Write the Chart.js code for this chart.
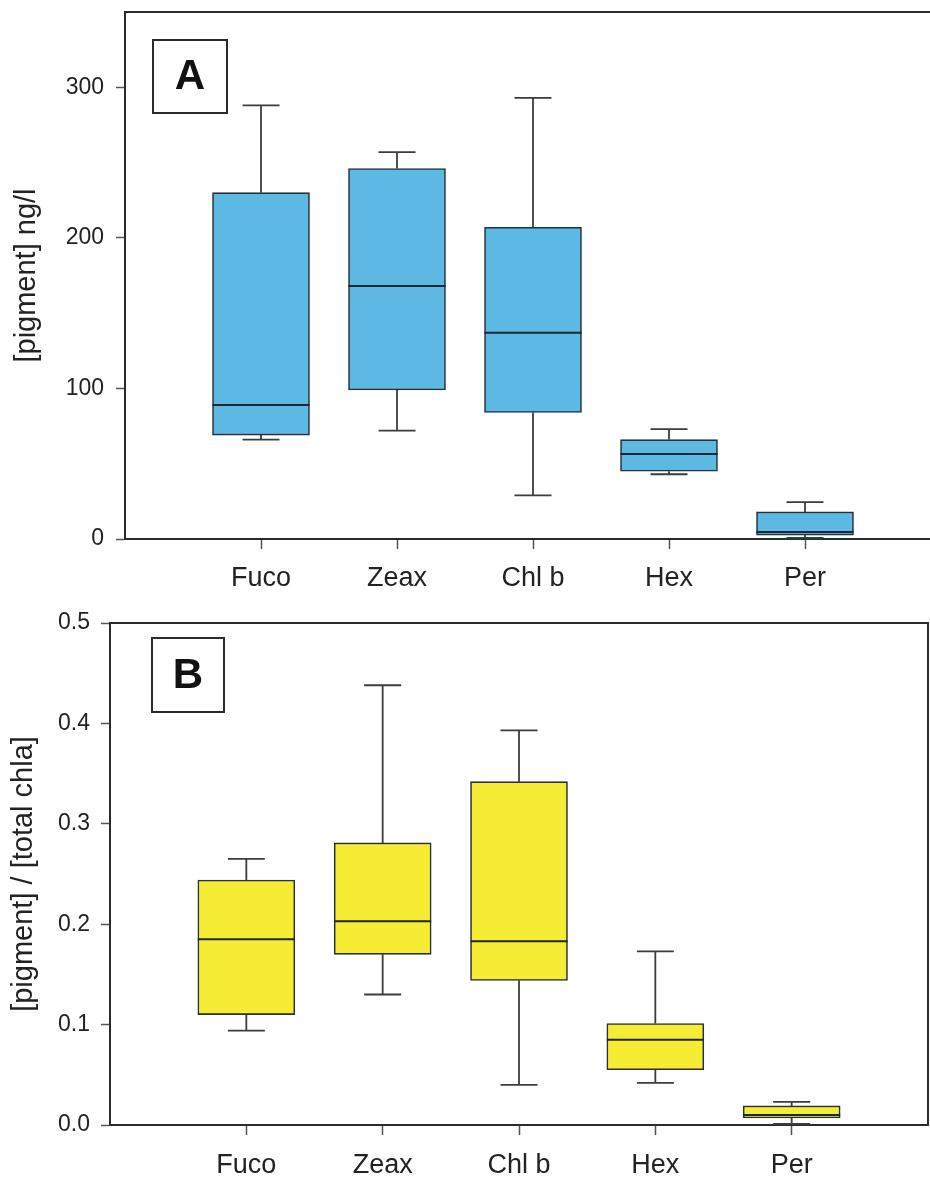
<!DOCTYPE html>
<html>
<head>
<meta charset="utf-8">
<title>Pigment box plots</title>
<script src="https://cdn.jsdelivr.net/npm/chart.js@4.4.1/dist/chart.umd.min.js"></script>
<style>
  html, body { margin: 0; padding: 0; background: #fff; }
  #page { width: 930px; height: 1178px; overflow: hidden; position: relative; background: #fff; }
  .panel { position: absolute; left: 0; width: 930px; overflow: hidden; }
  #panelA { top: 0; height: 600px; }
  #panelB { top: 600px; height: 578px; }
  canvas { display: block; }
</style>
</head>
<body>
<div id="page">
  <div class="panel" id="panelA"><canvas id="chartA" width="945" height="600"></canvas></div>
  <div class="panel" id="panelB"><canvas id="chartB" width="930" height="578"></canvas></div>
</div>
<script>
const categories = ["Fuco", "Zeax", "Chl b", "Hex", "Per"];

// A: pigment concentration, ng/l
const concMin    = [66, 72, 29, 43, 0.7];
const concQ1     = [69, 99, 84, 45, 2.6];
const concMedian = [89, 168, 137, 56.5, 4.6];
const concQ3     = [230, 246, 207, 66, 18];
const concMax    = [288, 257, 293, 73, 24.5];
const concTicks  = [0, 100, 200, 300];

// B: pigment / total chl a
const ratioMin    = [0.094, 0.130, 0.040, 0.042, 0.001];
const ratioQ1     = [0.110, 0.170, 0.144, 0.055, 0.007];
const ratioMedian = [0.185, 0.203, 0.183, 0.085, 0.010];
const ratioQ3     = [0.244, 0.281, 0.342, 0.101, 0.019];
const ratioMax    = [0.265, 0.438, 0.393, 0.173, 0.023];
const ratioTicks  = [0, 0.1, 0.2, 0.3, 0.4, 0.5];

const ink = "#2b2b2b";
const fontFamily = "'Liberation Sans', Arial, Helvetica, sans-serif";

// whiskers under the boxes, median lines on top
const boxPlotPlugin = {
  id: "boxPlot",
  beforeDatasetsDraw(chart, args, opts) {
    const ctx = chart.ctx;
    const xs = chart.scales.x, ys = chart.scales.y;
    const meta = chart.getDatasetMeta(0);
    ctx.save();
    ctx.strokeStyle = "#3c3c3c";
    ctx.lineWidth = 1.8;
    meta.data.forEach((bar, i) => {
      const cx = xs.getPixelForValue(i + 1);
      const half = opts.capWidth / 2;
      const yMin = ys.getPixelForValue(opts.min[i]);
      const yMax = ys.getPixelForValue(opts.max[i]);
      const yQ1 = ys.getPixelForValue(opts.q1[i]);
      const yQ3 = ys.getPixelForValue(opts.q3[i]);
      ctx.beginPath();
      ctx.moveTo(cx, yQ3); ctx.lineTo(cx, yMax);
      ctx.moveTo(cx - half, yMax); ctx.lineTo(cx + half, yMax);
      ctx.moveTo(cx, yQ1); ctx.lineTo(cx, yMin);
      ctx.moveTo(cx - half, yMin); ctx.lineTo(cx + half, yMin);
      ctx.stroke();
    });
    ctx.restore();
  },
  afterDatasetsDraw(chart, args, opts) {
    const ctx = chart.ctx;
    const ys = chart.scales.y;
    const meta = chart.getDatasetMeta(0);
    ctx.save();
    ctx.strokeStyle = "#1e2730";
    ctx.lineWidth = 2;
    meta.data.forEach((bar, i) => {
      const y = ys.getPixelForValue(opts.median[i]);
      ctx.beginPath();
      ctx.moveTo(bar.x - bar.width / 2, y);
      ctx.lineTo(bar.x + bar.width / 2, y);
      ctx.stroke();
    });
    ctx.restore();
  }
};

// top and right edges of the plot frame, plus the boxed panel letter
const framePlugin = {
  id: "frame",
  afterDraw(chart, args, opts) {
    const ctx = chart.ctx;
    const a = chart.chartArea;
    ctx.save();
    ctx.strokeStyle = ink;
    ctx.lineWidth = 2;
    ctx.beginPath();
    ctx.moveTo(a.left, a.top);
    ctx.lineTo(a.right, a.top);
    ctx.lineTo(a.right, a.bottom);
    ctx.stroke();

    const t = opts.tag;
    ctx.lineWidth = 2;
    ctx.strokeRect(t.x, t.y, t.w, t.h);
    ctx.fillStyle = "#111";
    ctx.font = "bold 42px " + fontFamily;
    ctx.textAlign = "center";
    ctx.textBaseline = "middle";
    ctx.fillText(t.text, t.x + t.w / 2, t.y + t.h / 2 + 1);
    ctx.restore();
  }
};

function makeBoxChart(canvasId, s) {
  const positions = categories.map((c, i) => i + 1);
  return new Chart(document.getElementById(canvasId), {
    type: "bar",
    data: {
      datasets: [{
        data: positions.map((x, i) => ({ x: x, y: [s.q1[i], s.q3[i]] })),
        backgroundColor: s.fill,
        borderColor: "#26303a",
        borderWidth: 1.6,
        borderSkipped: false,
        barThickness: 97
      }]
    },
    options: {
      responsive: false,
      animation: false,
      layout: { padding: s.padding },
      plugins: {
        legend: { display: false },
        tooltip: { enabled: false },
        boxPlot: { min: s.min, q1: s.q1, median: s.median, q3: s.q3, max: s.max, capWidth: 37 },
        frame: { tag: s.tag }
      },
      scales: {
        x: {
          type: "linear",
          min: 0,
          max: 6,
          offset: false,
          afterBuildTicks: sc => { sc.ticks = positions.map(v => ({ value: v })); },
          afterFit: sc => {
            sc.height = s.xHeight;
            sc.paddingLeft = 0;
            sc.paddingRight = 0;
          },
          ticks: {
            callback: v => categories[v - 1],
            color: "#222",
            font: { family: fontFamily, size: 27 },
            padding: s.xPad,
            maxRotation: 0,
            autoSkip: false
          },
          grid: { drawOnChartArea: false, offset: false, tickLength: 10, tickColor: "#555", tickWidth: 1.5 },
          border: { color: ink, width: 2 }
        },
        y: {
          min: 0,
          max: s.yMax,
          afterBuildTicks: sc => { sc.ticks = s.ticks.map(v => ({ value: v })); },
          afterFit: sc => {
            sc.width = s.yWidth;
            sc.paddingTop = 0;
            sc.paddingBottom = 0;
          },
          ticks: {
            callback: s.format,
            color: "#222",
            font: { family: fontFamily, size: 23 },
            padding: s.yPad
          },
          title: {
            display: true,
            text: s.title,
            color: "#222",
            font: { family: fontFamily, size: 29 },
            padding: { top: s.titlePad, bottom: 0 }
          },
          grid: { drawOnChartArea: false, tickLength: 9, tickColor: "#555", tickWidth: 1.5 },
          border: { color: ink, width: 2 }
        }
      }
    },
    plugins: [boxPlotPlugin, framePlugin]
  });
}

makeBoxChart("chartA", {
  min: concMin, q1: concQ1, median: concMedian, q3: concQ3, max: concMax,
  ticks: concTicks, yMax: 350, format: v => String(v),
  fill: "#5BB9E3",
  title: "[pigment] ng/l",
  padding: { left: 0, top: 12, right: 4, bottom: 0 },
  xHeight: 61, yWidth: 125, xPad: 13, yPad: 12, titlePad: 10,
  tag: { x: 153, y: 40, w: 74, h: 73, text: "A" }
});

makeBoxChart("chartB", {
  min: ratioMin, q1: ratioQ1, median: ratioMedian, q3: ratioQ3, max: ratioMax,
  ticks: ratioTicks, yMax: 0.5, format: v => v.toFixed(1),
  fill: "#F7EC34",
  title: "[pigment] / [total chla]",
  padding: { left: 0, top: 23, right: 2, bottom: 0 },
  xHeight: 53, yWidth: 110, xPad: 14, yPad: 11, titlePad: 7,
  tag: { x: 152, y: 38, w: 72, h: 74, text: "B" }
});
</script>
</body>
</html>
